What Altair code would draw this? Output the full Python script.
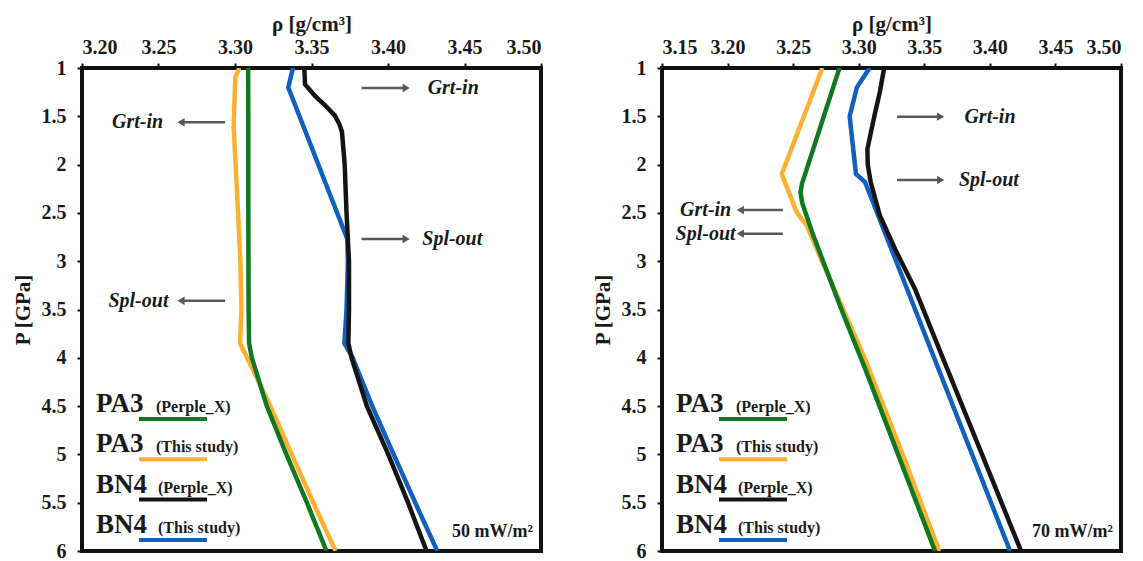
import altair as alt
import pandas as pd

# ---------------- data ----------------
KEYS = ["PA3 (Perple_X)", "PA3 (This study)", "BN4 (Perple_X)", "BN4 (This study)"]
COLORS = ["#10781f", "#fbb032", "#151515", "#1060bd"]
DRAW_ORDER = ["PA3 (This study)", "PA3 (Perple_X)", "BN4 (This study)", "BN4 (Perple_X)"]

P_TICKS = [1, 1.5, 2, 2.5, 3, 3.5, 4, 4.5, 5, 5.5, 6]
RHO_TICKS_L = [3.20, 3.25, 3.30, 3.35, 3.40, 3.45, 3.50]
RHO_TICKS_R = [3.15, 3.20, 3.25, 3.30, 3.35, 3.40, 3.45, 3.50]

# Left panel (50 mW/m2)
L_PA3_PX_P = [1.0, 1.5, 2.0, 2.5, 3.0, 3.5, 3.85, 4.0, 4.5, 5.0, 5.5, 6.0]
L_PA3_PX_RHO = [3.3086, 3.3087, 3.3087, 3.3087, 3.3088, 3.3089, 3.3092, 3.3110, 3.3208, 3.3336, 3.3470, 3.3598]
L_PA3_TS_P = [1.0, 1.1, 1.6, 2.5, 3.0, 3.5, 3.85, 4.1, 4.5, 5.0, 5.5, 6.0]
L_PA3_TS_RHO = [3.3028, 3.3002, 3.2991, 3.3020, 3.3035, 3.3042, 3.3033, 3.3110, 3.3231, 3.3371, 3.3512, 3.3657]
L_BN4_PX_P = [1.0, 1.17, 1.29, 1.40, 1.49, 1.58, 1.66, 2.0, 2.5, 3.0, 3.5, 3.85, 4.0, 4.5, 5.0, 5.5, 6.0]
L_BN4_PX_RHO = [3.3453, 3.3458, 3.3523, 3.3597, 3.3652, 3.3682, 3.3699, 3.3717, 3.3729, 3.3745, 3.3745, 3.3741, 3.3762, 3.3862, 3.4002, 3.4131, 3.4252]
L_BN4_TS_P = [1.0, 1.2, 2.77, 3.0, 3.5, 3.85, 4.0, 4.5, 5.0, 5.5, 6.0]
L_BN4_TS_RHO = [3.3379, 3.3348, 3.3734, 3.3738, 3.3729, 3.3715, 3.3769, 3.3897, 3.4037, 3.4178, 3.4322]

# Right panel (70 mW/m2)
R_PA3_PX_P = [1.0, 2.2, 2.29, 2.4, 2.7, 3.5, 4.1, 5.0, 6.0]
R_PA3_PX_RHO = [3.2853, 3.2567, 3.2556, 3.2570, 3.2645, 3.2868, 3.3045, 3.3300, 3.3582]
R_PA3_TS_P = [1.0, 1.15, 2.097, 2.494, 2.63, 3.0, 4.0, 5.0, 6.0]
R_PA3_TS_RHO = [3.2722, 3.2681, 3.2413, 3.2527, 3.2603, 3.2720, 3.3045, 3.3335, 3.3615]
R_BN4_PX_P = [1.0, 1.25, 1.5, 1.84, 2.0, 2.18, 2.53, 2.874, 3.288, 4.0, 5.0, 6.0]
R_BN4_PX_RHO = [3.3194, 3.3161, 3.3119, 3.3066, 3.3069, 3.3091, 3.3162, 3.3277, 3.3429, 3.3641, 3.3940, 3.4238]
R_BN4_TS_P = [1.0, 1.2, 1.5, 2.097, 2.18, 6.0]
R_BN4_TS_RHO = [3.3083, 3.2986, 3.2931, 3.2979, 3.3048, 3.4154]

# Annotations: label, arrow start, arrow head, pressure, text anchor, side of text
L_NOTE_TEXT = ["Grt-in", "Grt-in", "Spl-out", "Spl-out"]
L_NOTE_FROM = [3.3827, 3.2935, 3.3827, 3.2935]
L_NOTE_TO = [3.4119, 3.2647, 3.4119, 3.2647]
L_NOTE_P = [1.207, 1.562, 2.770, 3.409]
L_NOTE_TX = [3.4259, 3.2530, 3.4224, 3.2565]
L_NOTE_SIDE = ["right", "left", "right", "left"]

R_NOTE_TEXT = ["Grt-in", "Spl-out", "Grt-in", "Spl-out"]
R_NOTE_FROM = [3.3292, 3.3292, 3.2422, 3.2422]
R_NOTE_TO = [3.3625, 3.3625, 3.2097, 3.2097]
R_NOTE_P = [1.504, 2.159, 2.47, 2.715]
R_NOTE_TX = [3.3806, 3.3764, 3.2028, 3.2061]
R_NOTE_SIDE = ["right", "right", "left", "left"]

LEGEND_MAIN = ["PA3", "PA3", "BN4", "BN4"]
LEGEND_SUB = ["(Perple_X)", "(This study)", "(Perple_X)", "(This study)"]

FONT = "Liberation Serif"
PW, PH = 459, 483


def make_panel(curves, xmin, xticks, note, flux):
    xsc = alt.Scale(domain=[xmin, 3.50], nice=False, zero=False)
    ysc = alt.Scale(domain=[1, 6], reverse=True, nice=False, zero=False)
    xax = alt.Axis(orient="top", values=xticks, format=".2f", title="ρ [g/cm³]")
    yax = alt.Axis(values=P_TICKS, labelExpr="format(datum.value, '~g')", title="P [GPa]")
    colmap = dict(zip(KEYS, COLORS))
    layers = []
    for key in DRAW_ORDER:
        P, rho = curves[key]
        df = pd.DataFrame({"P": P, "rho": rho})
        layers.append(
            alt.Chart(df).mark_line(color=colmap[key], strokeWidth=4.5, clip=True).encode(
                x=alt.X("rho:Q", scale=xsc, axis=xax),
                y=alt.Y("P:Q", scale=ysc, axis=yax),
                order="P:Q",
            )
        )
    txt, xf, xt, pp, tx, side = note
    ndf = pd.DataFrame({"text": txt, "x1": xf, "rho": xt, "P": pp, "tx": tx, "side": side})
    layers.append(
        alt.Chart(ndf).mark_rule(color="#585858", strokeWidth=2.5).encode(
            x=alt.X("x1:Q", scale=xsc, axis=xax), x2="rho:Q", y=alt.Y("P:Q", scale=ysc, axis=yax)
        )
    )
    layers.append(
        alt.Chart(ndf).mark_point(filled=True, color="#585858", size=70, opacity=1).encode(
            x=alt.X("rho:Q", scale=xsc, axis=xax),
            y=alt.Y("P:Q", scale=ysc, axis=yax),
            shape=alt.Shape("side:N", scale=alt.Scale(domain=["right", "left"],
                                                       range=["triangle-right", "triangle-left"]), legend=None),
        )
    )
    for side_val, align in [("right", "left"), ("left", "right")]:
        layers.append(
            alt.Chart(ndf).transform_filter(alt.datum.side == side_val).mark_text(
                font=FONT, fontSize=20, fontStyle="italic", fontWeight="bold", align=align,
                baseline="middle", color="#1a1a1a"
            ).encode(
                x=alt.X("tx:Q", scale=xsc, axis=xax), y=alt.Y("P:Q", scale=ysc, axis=yax), text="text:N"
            )
        )
    # legend drawn inside the panel
    leg = pd.DataFrame({"main": LEGEND_MAIN, "sub": LEGEND_SUB, "key": KEYS, "row": [0, 1, 2, 3]})
    base = alt.Chart(leg).transform_calculate(
        yb="344 + 40.3*datum.row", yl="351 + 40.3*datum.row",
        xs="datum.main == 'BN4' ? 76 : 74"
    )
    layers.append(
        base.mark_text(font=FONT, fontSize=27, fontWeight="bold", align="left", baseline="alphabetic",
                       color="#1a1a1a").encode(
            x=alt.value(14), y=alt.Y("yb:Q", scale=None), text="main:N")
    )
    layers.append(
        base.mark_text(font=FONT, fontSize=16, fontWeight="bold", align="left", baseline="alphabetic",
                       color="#1a1a1a").encode(
            x=alt.X("xs:Q", scale=None), y=alt.Y("yb:Q", scale=None), text="sub:N")
    )
    layers.append(
        base.mark_rule(strokeWidth=4).encode(
            x=alt.value(57), x2=alt.value(125), y=alt.Y("yl:Q", scale=None),
            color=alt.Color("key:N", scale=alt.Scale(domain=KEYS, range=COLORS), legend=None))
    )
    layers.append(
        alt.Chart(pd.DataFrame({"t": [flux]})).mark_text(
            font=FONT, fontSize=18, fontWeight="bold", align="right", baseline="alphabetic", color="#1a1a1a"
        ).encode(x=alt.value(451), y=alt.value(469), text="t:N")
    )
    return alt.layer(*layers).properties(width=PW, height=PH)


left = make_panel(
    {
        "PA3 (Perple_X)": (L_PA3_PX_P, L_PA3_PX_RHO),
        "PA3 (This study)": (L_PA3_TS_P, L_PA3_TS_RHO),
        "BN4 (Perple_X)": (L_BN4_PX_P, L_BN4_PX_RHO),
        "BN4 (This study)": (L_BN4_TS_P, L_BN4_TS_RHO),
    },
    3.20, RHO_TICKS_L,
    (L_NOTE_TEXT, L_NOTE_FROM, L_NOTE_TO, L_NOTE_P, L_NOTE_TX, L_NOTE_SIDE),
    "50 mW/m²",
)
right = make_panel(
    {
        "PA3 (Perple_X)": (R_PA3_PX_P, R_PA3_PX_RHO),
        "PA3 (This study)": (R_PA3_TS_P, R_PA3_TS_RHO),
        "BN4 (Perple_X)": (R_BN4_PX_P, R_BN4_PX_RHO),
        "BN4 (This study)": (R_BN4_TS_P, R_BN4_TS_RHO),
    },
    3.15, RHO_TICKS_R,
    (R_NOTE_TEXT, R_NOTE_FROM, R_NOTE_TO, R_NOTE_P, R_NOTE_TX, R_NOTE_SIDE),
    "70 mW/m²",
)

chart = (
    alt.hconcat(left, right, spacing=46)
    .properties(padding={"left": 2, "top": 3, "right": 0, "bottom": 0}, background="white")
    .configure_view(stroke="#111111", strokeWidth=4)
    .configure_axis(
        domain=False, grid=False,
        labelFont=FONT, labelFontWeight="bold", labelFontSize=20, labelColor="#1a1a1a",
        tickColor="#111111", tickWidth=2, tickSize=5,
        titleFont=FONT, titleFontWeight="bold", titleFontSize=21, titleColor="#1a1a1a",
    )
    .configure_axisX(labelPadding=6, titlePadding=3)
    .configure_axisY(labelPadding=11, titlePadding=8)
)

chart.save("out.html", embed_options={"renderer": "svg", "actions": False})
